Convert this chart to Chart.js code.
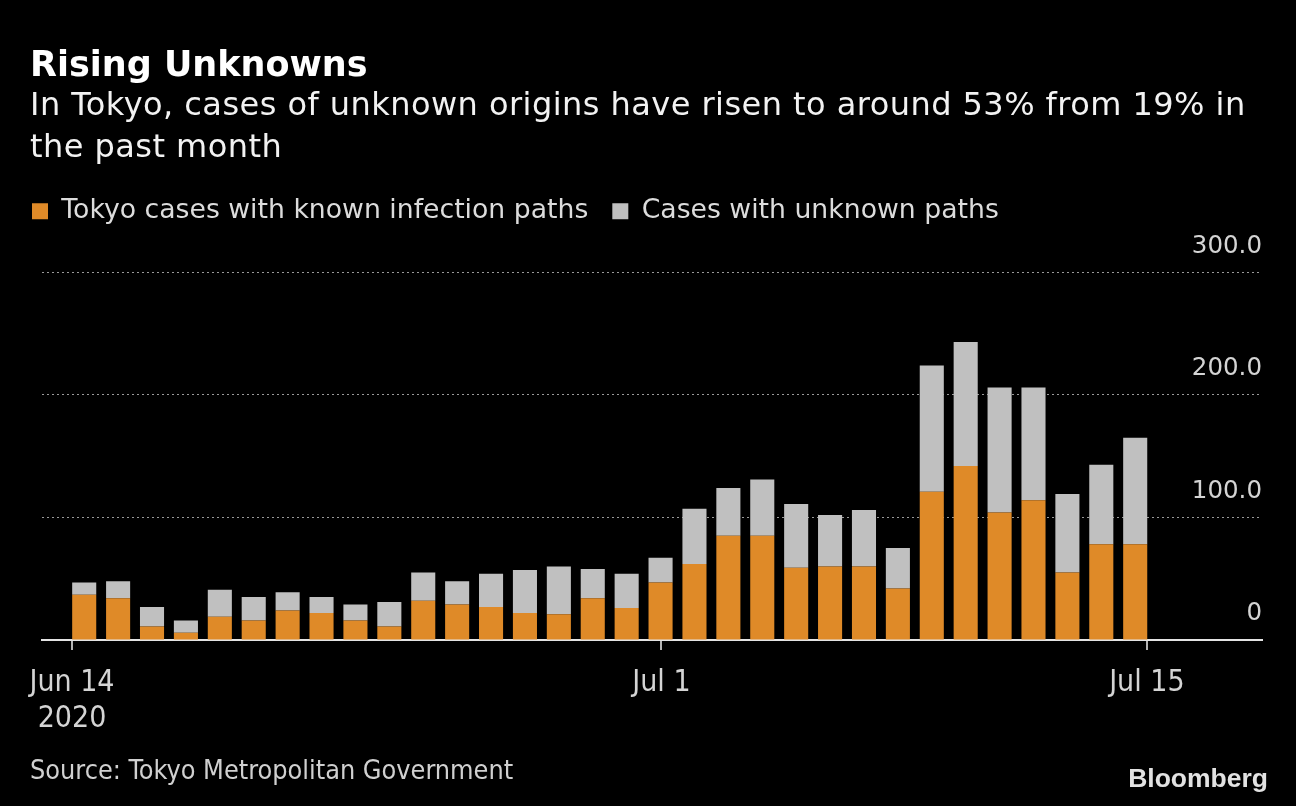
<!DOCTYPE html>
<html><head><meta charset="utf-8">
<script src="https://cdn.jsdelivr.net/npm/chart.js@4.4.1/dist/chart.umd.min.js"></script>
<style>
html,body{margin:0;padding:0;background:#000;}
#wrap{position:relative;width:1296px;height:806px;overflow:hidden;background:#000;}
canvas{position:absolute;left:0;top:0;}
.t{position:absolute;left:30px;white-space:nowrap;}
#title{top:43px;font:bold 35px/42px "DejaVu Sans",sans-serif;color:#fff;}
#sub{top:83px;font:32px/42px "DejaVu Sans",sans-serif;letter-spacing:0.45px;color:#f2f2f2;}
#src{top:755px;font-family:"DejaVu Sans Condensed","Liberation Sans Narrow","DejaVu Sans",sans-serif;font-stretch:condensed;font-size:26.8px;line-height:30px;color:#d0d0d0;}
#logo{position:absolute;right:28px;top:763px;font:bold 26.5px/30px "Liberation Sans",Arial,sans-serif;color:#e2e2e2;}
</style></head>
<body><div id="wrap"><canvas id="c" width="1296" height="806"></canvas>
<div class="t" id="title">Rising Unknowns</div>
<div class="t" id="sub">In Tokyo, cases of unknown origins have risen to around 53% from 19% in<br>the past month</div>
<div class="t" id="src">Source: Tokyo Metropolitan Government</div>
<div id="logo">Bloomberg</div></div>
<script>
const dates = ["Jun 14","Jun 15","Jun 16","Jun 17","Jun 18","Jun 19","Jun 20","Jun 21","Jun 22","Jun 23","Jun 24","Jun 25","Jun 26","Jun 27","Jun 28","Jun 29","Jun 30","Jul 1","Jul 2","Jul 3","Jul 4","Jul 5","Jul 6","Jul 7","Jul 8","Jul 9","Jul 10","Jul 11","Jul 12","Jul 13","Jul 14","Jul 15"];
const knownPaths = [37,34,11,6,19,16,24,22,16,11,32,29,27,22,21,34,26,47,62,85,85,59,60,60,42,121,142,104,114,55,78,78];
const unknownPaths = [10,14,16,10,22,19,15,13,13,20,23,19,27,35,39,24,28,20,45,39,46,52,42,46,33,103,101,102,92,64,65,87];
const seriesNames = ["Tokyo cases with known infection paths","Cases with unknown paths"];
const yTicks = [0,100,200,300];
const dateTickIndex = [0,17,31];
const dateTickLabels = [["Jun 14","2020"],["Jul 1"],["Jul 15"]];

const narrow = '"DejaVu Sans Condensed","Liberation Sans Narrow","DejaVu Sans",sans-serif';

const legendMargin = {
  id:'legendMargin',
  beforeInit(chart){
    const fit = chart.legend.fit;
    chart.legend.fit = function(){ fit.bind(chart.legend)(); this.height += 37.5; };
  }
};

new Chart(document.getElementById('c'), {
  type:'bar',
  data:{
    labels: dates,
    datasets:[
      {label:seriesNames[0], data: knownPaths.map((v,i)=>({x:i,y:v})), backgroundColor:'#df8a28', borderWidth:0, barPercentage:0.71, categoryPercentage:1, xAxisID:'x', yAxisID:'y'},
      {label:seriesNames[1], data: unknownPaths.map((v,i)=>({x:i,y:v})), backgroundColor:'#c0c0c0', borderWidth:0, barPercentage:0.71, categoryPercentage:1, xAxisID:'x', yAxisID:'y'}
    ]
  },
  options:{
    responsive:false, animation:false,
    layout:{padding:{left:8,right:34,top:174,bottom:54}},
    plugins:{
      legend:{position:'top',align:'start',labels:{boxWidth:16,boxHeight:16,padding:24,color:'#dcdcdc',font:{family:'"DejaVu Sans",sans-serif',size:26.7}}},
      tooltip:{enabled:false},
      title:{display:false}
    },
    scales:{
      x:{type:'linear',min:-1.245,max:34.74,offset:false,grid:{offset:false},stacked:true,display:false},
      xd:{type:'linear',position:'bottom',min:-0.865,max:34.32,offset:false,
        grid:{offset:false,drawOnChartArea:false,drawTicks:true,tickLength:10,color:'#b4b4b4',lineWidth:2},
        border:{display:true,color:'#e4e4e4',width:2},
        afterBuildTicks:s=>{ s.ticks = dateTickIndex.map(v=>({value:v})); },
        ticks:{autoSkip:false,maxRotation:0,minRotation:0,padding:15,color:'#d4d4d4',font:{family:narrow,size:30},callback:(v,i)=>dateTickLabels[i]}
      },
      y:{type:'linear',position:'right',min:0,max:300,stacked:true,
        afterBuildTicks:s=>{ s.ticks = yTicks.map(v=>({value:v})); },
        grid:{drawTicks:false,lineWidth:1,color:c=>(c.tick && c.tick.value===0)?'rgba(0,0,0,0)':'#9a9a9a'},
        border:{display:false,dash:[2,3]},
        ticks:{mirror:true,padding:0,labelOffset:-26,color:'#d4d4d4',font:{family:'"DejaVu Sans",sans-serif',size:24.5},callback:v=>v===0?'0':v.toFixed(1)}
      },
      yPad:{type:'linear',position:'left',display:true,grid:{display:false},border:{display:false},ticks:{display:false},afterFit:s=>{ s.width = 34; }}
    }
  },
  plugins:[legendMargin]
});
</script>
</body></html>
